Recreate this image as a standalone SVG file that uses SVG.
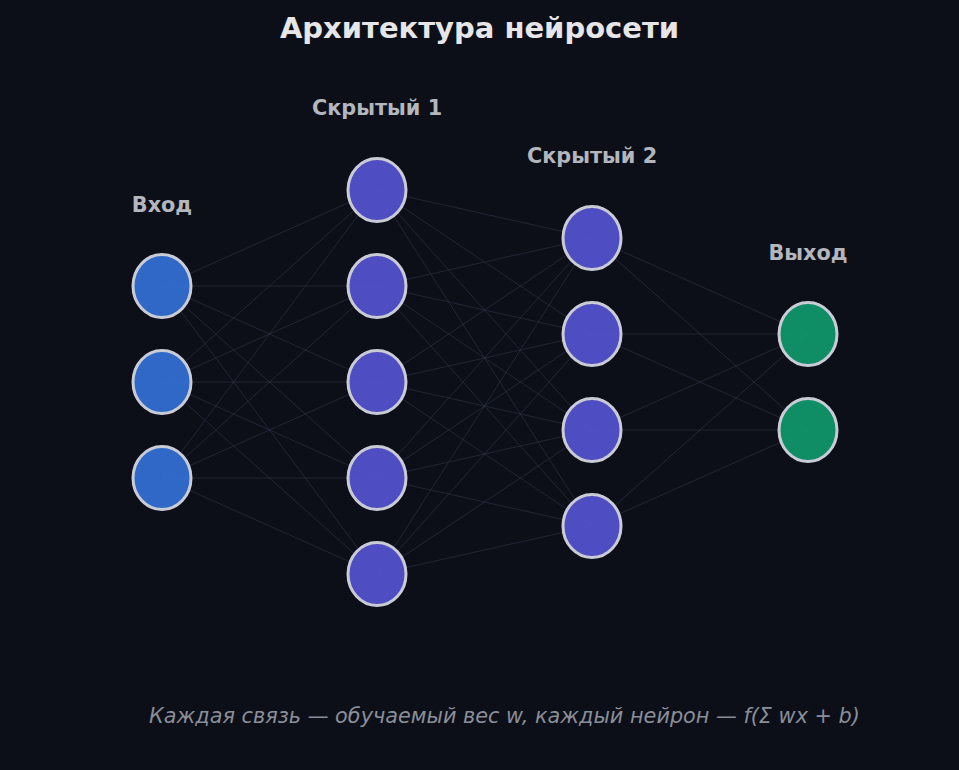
<svg xmlns="http://www.w3.org/2000/svg" width="959" height="770" viewBox="0 0 959 770">
<style>
.bg{fill:#0c0f18}
.ttl{font-family:"DejaVu Sans",sans-serif;font-weight:bold;font-size:29px;fill:#e6e6e8;text-anchor:middle}
.lbl{font-family:"DejaVu Sans",sans-serif;font-weight:bold;font-size:20.8px;fill:#b3b6bd;text-anchor:middle}
.foot{font-family:"DejaVu Sans",sans-serif;font-style:italic;font-size:20.8px;fill:#8a8e98;text-anchor:middle}
.e line{stroke:#3a4256;stroke-width:1;stroke-opacity:0.45}
.n{stroke:#c9ccd6;stroke-width:3;fill-opacity:0.92}
.in{fill:#3370d6}
.hd{fill:#5553d0}
.out{fill:#10996d}
</style>
<rect class="bg" x="0" y="0" width="959" height="770"/>
<text class="ttl" x="479.5" y="38">Архитектура нейросети</text>
<text class="lbl" x="162" y="212">Вход</text>
<text class="lbl" x="377" y="115">Скрытый 1</text>
<text class="lbl" x="592" y="163">Скрытый 2</text>
<text class="lbl" x="808" y="260">Выход</text>
<g id="connectors" class="e">
<line x1="162" y1="286" x2="377" y2="190"/><line x1="162" y1="286" x2="377" y2="286"/><line x1="162" y1="286" x2="377" y2="382"/><line x1="162" y1="286" x2="377" y2="478"/><line x1="162" y1="286" x2="377" y2="574"/>
<line x1="162" y1="382" x2="377" y2="190"/><line x1="162" y1="382" x2="377" y2="286"/><line x1="162" y1="382" x2="377" y2="382"/><line x1="162" y1="382" x2="377" y2="478"/><line x1="162" y1="382" x2="377" y2="574"/>
<line x1="162" y1="478" x2="377" y2="190"/><line x1="162" y1="478" x2="377" y2="286"/><line x1="162" y1="478" x2="377" y2="382"/><line x1="162" y1="478" x2="377" y2="478"/><line x1="162" y1="478" x2="377" y2="574"/>
<line x1="377" y1="190" x2="592" y2="238"/><line x1="377" y1="190" x2="592" y2="334"/><line x1="377" y1="190" x2="592" y2="430"/><line x1="377" y1="190" x2="592" y2="526"/>
<line x1="377" y1="286" x2="592" y2="238"/><line x1="377" y1="286" x2="592" y2="334"/><line x1="377" y1="286" x2="592" y2="430"/><line x1="377" y1="286" x2="592" y2="526"/>
<line x1="377" y1="382" x2="592" y2="238"/><line x1="377" y1="382" x2="592" y2="334"/><line x1="377" y1="382" x2="592" y2="430"/><line x1="377" y1="382" x2="592" y2="526"/>
<line x1="377" y1="478" x2="592" y2="238"/><line x1="377" y1="478" x2="592" y2="334"/><line x1="377" y1="478" x2="592" y2="430"/><line x1="377" y1="478" x2="592" y2="526"/>
<line x1="377" y1="574" x2="592" y2="238"/><line x1="377" y1="574" x2="592" y2="334"/><line x1="377" y1="574" x2="592" y2="430"/><line x1="377" y1="574" x2="592" y2="526"/>
<line x1="592" y1="238" x2="808" y2="334"/><line x1="592" y1="238" x2="808" y2="430"/>
<line x1="592" y1="334" x2="808" y2="334"/><line x1="592" y1="334" x2="808" y2="430"/>
<line x1="592" y1="430" x2="808" y2="334"/><line x1="592" y1="430" x2="808" y2="430"/>
<line x1="592" y1="526" x2="808" y2="334"/><line x1="592" y1="526" x2="808" y2="430"/>
</g>
<g id="in1"><ellipse class="n in" cx="162" cy="286" rx="29" ry="31.5"/></g>
<g id="in2"><ellipse class="n in" cx="162" cy="382" rx="29" ry="31.5"/></g>
<g id="in3"><ellipse class="n in" cx="162" cy="478" rx="29" ry="31.5"/></g>
<g id="h1a"><ellipse class="n hd" cx="377" cy="190" rx="29" ry="31.5"/></g>
<g id="h1b"><ellipse class="n hd" cx="377" cy="286" rx="29" ry="31.5"/></g>
<g id="h1c"><ellipse class="n hd" cx="377" cy="382" rx="29" ry="31.5"/></g>
<g id="h1d"><ellipse class="n hd" cx="377" cy="478" rx="29" ry="31.5"/></g>
<g id="h1e"><ellipse class="n hd" cx="377" cy="574" rx="29" ry="31.5"/></g>
<g id="h2a"><ellipse class="n hd" cx="592" cy="238" rx="29" ry="31.5"/></g>
<g id="h2b"><ellipse class="n hd" cx="592" cy="334" rx="29" ry="31.5"/></g>
<g id="h2c"><ellipse class="n hd" cx="592" cy="430" rx="29" ry="31.5"/></g>
<g id="h2d"><ellipse class="n hd" cx="592" cy="526" rx="29" ry="31.5"/></g>
<g id="out1"><ellipse class="n out" cx="808" cy="334" rx="29" ry="31.5"/></g>
<g id="out2"><ellipse class="n out" cx="808" cy="430" rx="29" ry="31.5"/></g>
<text class="foot" x="504.5" y="723">Каждая связь — обучаемый вес w, каждый нейрон — f(Σ wx + b)</text>
</svg>
